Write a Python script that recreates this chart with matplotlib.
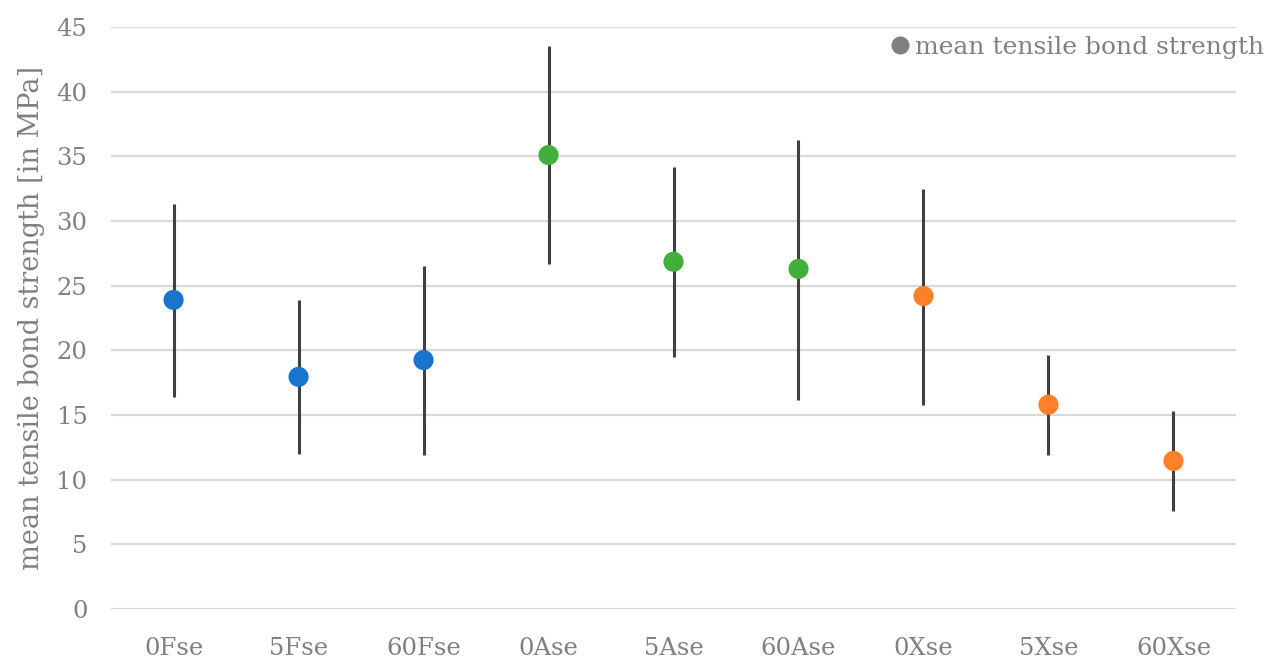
import matplotlib.pyplot as plt
from matplotlib.lines import Line2D
import numpy as np

plt.rcParams['font.family'] = ['DejaVu Serif']

labels = ['0Fse', '5Fse', '60Fse', '0Ase', '5Ase', '60Ase', '0Xse', '5Xse', '60Xse']
means = [23.9, 17.95, 19.25, 35.1, 26.85, 26.3, 24.2, 15.8, 11.45]
upper = [31.3, 23.9, 26.5, 43.5, 34.2, 36.3, 32.5, 19.65, 15.3]
lower = [16.4, 12.0, 11.9, 26.7, 19.45, 16.2, 15.8, 11.9, 7.6]
colors = ['#1874cd'] * 3 + ['#42ae3c'] * 3 + ['#ff8029'] * 3

x = np.arange(len(labels))
means = np.array(means)
yerr = [means - np.array(lower), np.array(upper) - means]

fig = plt.figure(figsize=(12.78, 6.64), dpi=100)
ax = fig.add_axes([0.0869, 0.0828, 0.8802, 0.8765])

ax.errorbar(x, means, yerr=yerr, fmt='none', ecolor='#404040', elinewidth=2.2, capsize=0, zorder=2)
ax.scatter(x, means, s=14.5**2, c=colors, zorder=3, linewidths=0)

ax.set_xlim(-0.5, len(labels) - 0.5)
ax.set_ylim(0, 45)
ax.set_yticks(np.arange(0, 46, 5))
ax.set_xticks(x)
ax.set_xticklabels(labels)
ax.grid(axis='y', color='#d9d9d9', linewidth=1.6, zorder=0)
ax.set_axisbelow(True)
for s in ax.spines.values():
    s.set_visible(False)
ax.tick_params(length=0, labelsize=17.5, colors='#808080')
ax.tick_params(axis='x', pad=20)
ax.tick_params(axis='y', pad=17)
ax.set_ylabel('mean tensile bond strength [in MPa]', fontsize=19.5, color='#808080', labelpad=8)

h = Line2D([], [], marker='o', linestyle='none', color='#808080', markersize=12)
fig.legend([h], ['mean tensile bond strength'], loc='upper right', bbox_to_anchor=(1.003, 0.972),
           frameon=False, fontsize=18, labelcolor='#808080', handletextpad=0.0, borderpad=0.2,
           handlelength=1.2)

fig.savefig('out.png', dpi=100)
